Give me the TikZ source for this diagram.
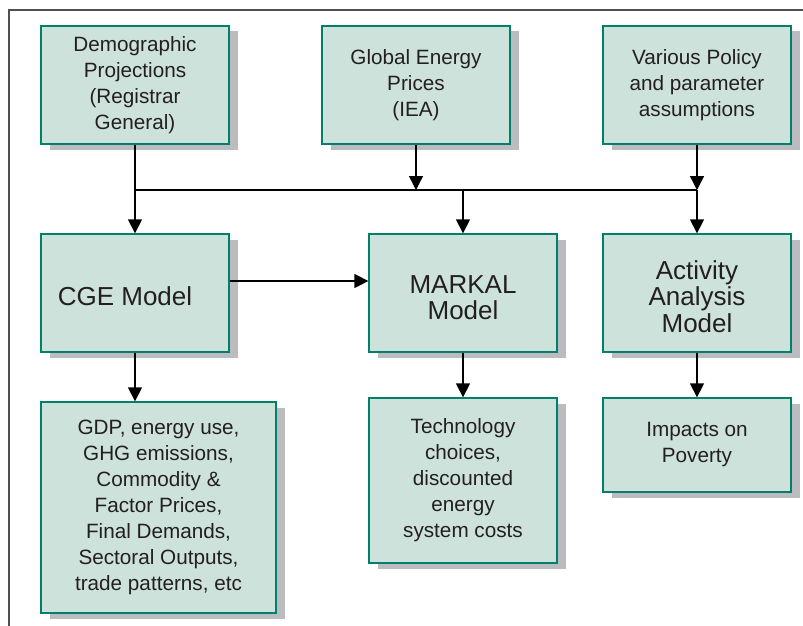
\documentclass[tikz,border=0pt]{standalone}
\usepackage{fontspec}
\setmainfont{Liberation Sans}
\usetikzlibrary{arrows.meta,shadows}
\definecolor{boxfill}{HTML}{CDE2DA}
\definecolor{boxline}{HTML}{00806A}
\definecolor{shadowgray}{HTML}{BBBCC0}
\definecolor{txt}{HTML}{231F20}
\definecolor{frameline}{HTML}{505050}
\tikzset{
  flowbox/.style={draw=boxline, line width=1.3pt, fill=boxfill, text=txt,
    align=center, inner sep=0pt, minimum width=188pt, minimum height=118pt,
    drop shadow={shadow xshift=9pt, shadow yshift=-5.5pt, fill=shadowgray, opacity=1},
    font=\fontsize{20.7}{26}\selectfont},
  bigtext/.style={font=\fontsize{26}{25}\selectfont},
  conn/.style={line width=1.4pt, draw=black},
  arr/.style={conn, -{Triangle[width=14pt,length=14pt]}},
  framestyle/.style={draw=frameline, line width=1.5pt}
}
\begin{document}
\begin{tikzpicture}[x=1pt,y=-1pt]
\useasboundingbox (0,0) rectangle (803,626);
\coordinate (frTR) at (803,10);
\coordinate (frTL) at (9,10);
\coordinate (frBL) at (9,626);
\draw[framestyle] (frTR) -- (frTL) -- (frBL);

\node[flowbox] (demo) at (135,85) {Demographic\\Projections\\(Registrar\\General)};
\node[flowbox] (glob) at (416,85) {Global Energy\\Prices\\(IEA)};
\node[flowbox] (pol) at (697,85) {Various Policy\\and parameter\\assumptions};

\node[flowbox,bigtext] (cge) at (135,293) {\raisebox{-3pt}[\height][\depth]{CGE Model}\hspace*{20pt}};
\node[flowbox,bigtext] (mark) at (463,293) {\raisebox{-8pt}[\height][\depth]{\begin{tabular}{@{}c@{}}MARKAL\\Model\end{tabular}}};
\node[flowbox,bigtext] (act) at (697,293) {\raisebox{-7pt}[\height][\depth]{\begin{tabular}{@{}c@{}}Activity\\Analysis\\Model\end{tabular}}};

\node[flowbox, minimum width=235pt, minimum height=211pt] (gdp) at (158.5,507.5)
  {GDP, energy use,\\GHG emissions,\\Commodity \&\\Factor Prices,\\Final Demands,\\Sectoral Outputs,\\trade patterns, etc};
\node[flowbox, minimum height=165pt] (tech) at (463,480.5)
  {Technology\\choices,\\discounted\\energy\\system costs};
\node[flowbox, minimum height=94pt] (imp) at (697,445) {Impacts on\\Poverty};

\coordinate (busL) at (135,190);
\coordinate (busR) at (697,190);

\draw[arr] (demo.south) -- (cge.north);
\draw[arr] (glob.south) -- (glob.south |- busL);
\draw[arr] (pol.south) -- (busR);
\draw[conn] (busL) -- (busR);
\draw[arr] (mark.north |- busL) -- (mark.north);
\draw[arr] (busR) -- (act.north);
\draw[arr] ([yshift=12pt]cge.east) -- ([yshift=12pt]mark.west);
\draw[arr] (cge.south) -- (cge.south |- gdp.north);
\draw[arr] (mark.south) -- (tech.north);
\draw[arr] (act.south) -- (imp.north);
\end{tikzpicture}
\end{document}
